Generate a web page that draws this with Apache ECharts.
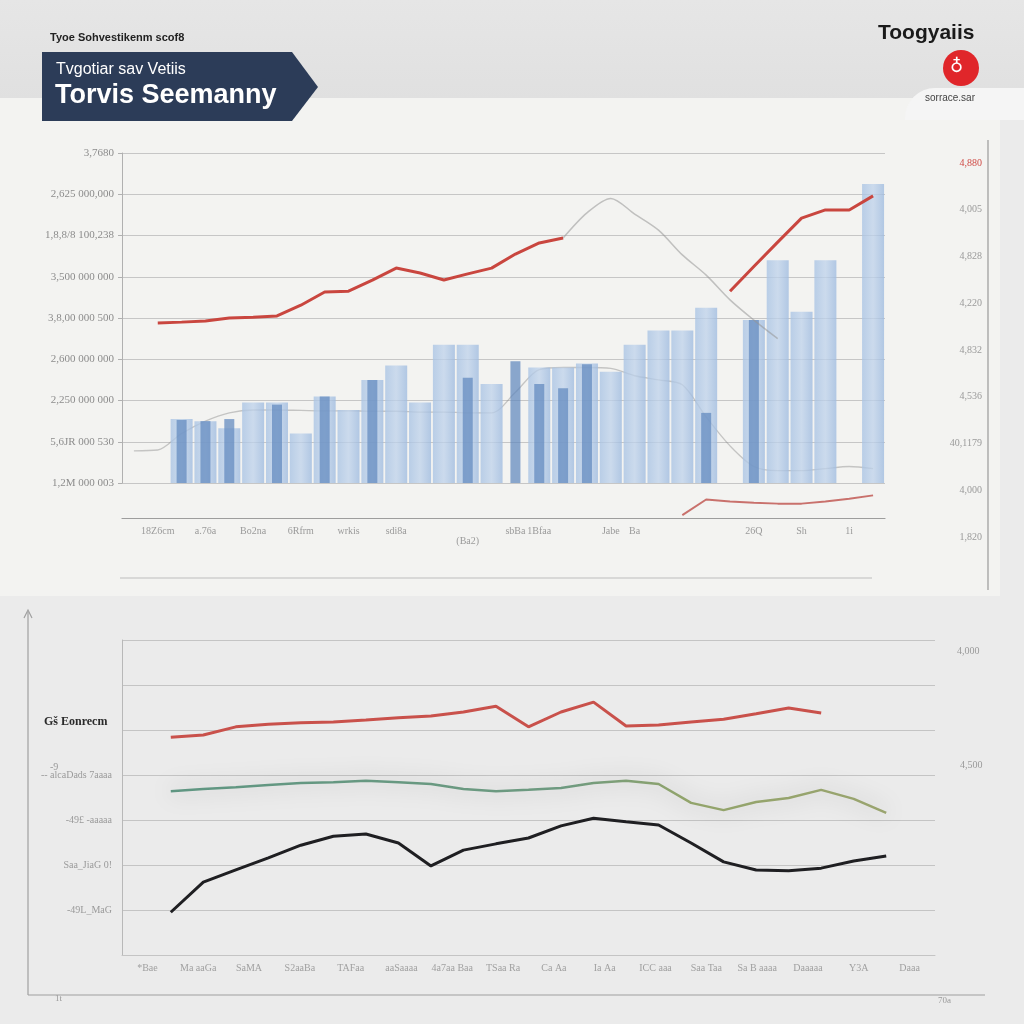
<!DOCTYPE html>
<html><head><meta charset="utf-8">
<script src="https://cdn.jsdelivr.net/npm/echarts@6/dist/echarts.min.js"></script>
<style>html,body{margin:0;padding:0;background:#ebebeb}#c{width:1024px;height:1024px}</style>
</head><body><div id="c"></div>
<script>
// ---------- DATA ----------
const topTickLabels = ['', '18Z6cm', '', 'a.76a', '', 'Bo2na', '', '6Rfrm', '', 'wrkis', '', 'sdi8a', '', '', '\n(Ba2)', '', 'sbBa', '1Bfaa', '', '', 'Jabe', 'Ba', '', '', '', '', '26Q', '', 'Sh', '', '1i', ''];
const topLight = [null,null,1.55,1.5,1.33,1.95,1.95,1.2,2.1,1.77,2.5,2.85,1.95,3.35,3.35,2.4,null,2.8,2.8,2.9,2.7,3.35,3.7,3.7,4.25,null,3.95,5.4,4.15,5.4,null,7.25];
const topDark  = [null,null,1.53,1.5,1.55,null,1.9,null,2.1,null,2.5,null,null,null,2.55,null,2.95,2.4,2.3,2.88,null,null,null,null,1.7,null,3.95,null,null,null,null,null];
const topRed   = [null,3.88,3.9,3.93,4.0,4.02,4.05,4.31,4.63,4.65,4.92,5.21,5.09,4.92,5.07,5.21,5.55,5.82,5.94,null,null,null,null,null,null,4.65,5.25,5.84,6.42,6.62,6.62,6.96];
const topGrayA = [null,null,null,null,null,null,null,null,null,null,null,null,null,null,null,null,null,null,5.94,6.55,6.9,6.52,6.13,5.53,5.04,4.44,3.95,3.5,null,null,null,null];
const topGrayB = [0.78,0.8,1.2,1.5,1.7,1.77,1.77,1.76,1.75,1.75,1.74,1.74,1.72,1.72,1.7,1.7,2.2,2.75,2.8,2.8,2.78,2.6,2.5,2.38,1.6,0.9,0.4,0.3,0.3,0.35,0.4,0.35];
const topRedLow = [null,null,null,null,null,null,null,null,null,null,null,null,null,null,null,null,null,null,null,null,null,null,null,-0.78,-0.4,-0.45,-0.48,-0.5,-0.5,-0.45,-0.38,-0.3];
const leftTopLabels = ['1,2M 000 003','5,6JR 000 530','2,250 000 000','2,600 000 000','3,8,00 000 500','3,500 000 000','1,8,8/8 100,238','2,625 000,000','3,7680'];
const rightTopLabels = ['1,820','4,000','40,1179','4,536','4,832','4,220','4,828','4,005','4,880'];

const botTickLabels = ['*Bae','Ma aaGa','SaMA','S2aaBa','TAFaa','aaSaaaa','4a7aa Baa','TSaa Ra','Ca Aa','Ia Aa','ICC aaa','Saa Taa','Sa B aaaa','Daaaaa','Y3A','Daaa'];
const botRed   = [null,4.84,4.89,5.07,5.13,5.16,5.18,5.22,5.27,5.31,5.4,5.53,5.07,5.4,5.62,5.09,5.11,5.18,5.24,5.36,5.49,5.38,null,null,null];
const botGreen = [null,3.64,3.69,3.73,3.78,3.82,3.84,3.87,3.84,3.8,3.69,3.64,3.67,3.71,3.82,3.87,3.8,3.38,3.22,3.4,3.49,3.67,3.47,3.16,null];
const botBlack = [null,0.95,1.62,1.89,2.16,2.44,2.64,2.69,2.49,1.98,2.33,2.47,2.6,2.87,3.04,2.96,2.89,2.49,2.07,1.89,1.87,1.93,2.09,2.2,null];
const leftBotLabels = ['', '-49L_MaG', 'Saa_JiaG 0!', '-49£ -aaaaa', '-- alcaDads 7aaaa', '', '', ''];

const topCats = topTickLabels.map((_, i) => 'T' + i);
const botCats = botBlack.map((_, i) => 'B' + i);
const botLabelCats = botTickLabels.map((_, i) => 'L' + i);

// ---------- CHART ----------
const chart = echarts.init(document.getElementById('c'), null, {renderer: 'canvas'});
const serif = 'Liberation Serif';
const sans = 'Liberation Sans';

const option = {
  backgroundColor: '#ebebeb',
  animation: false,
  graphic: [
    {type: 'rect', z: -10, shape: {x: 0, y: 0, width: 1024, height: 100}, style: {fill: new echarts.graphic.LinearGradient(0,0,0,1,[{offset:0,color:'#e6e6e6'},{offset:1,color:'#e0e0e0'}])}},
    {type: 'rect', z: -10, shape: {x: 0, y: 98, width: 1000, height: 498}, style: {fill: '#f3f3f1'}},
    {type: 'rect', z: -9, shape: {x: 905, y: 88, width: 119, height: 32, r: [30,0,0,0]}, style: {fill: '#f5f5f5'}},
    {type: 'polygon', z: 5, shape: {points: [[42,52],[292,52],[318,87],[292,121],[42,121]]}, style: {fill: '#2c3c58'}},
    {type: 'text', z: 6, left: 50, top: 32, style: {text: 'Tyoe Sohvestikenm scof8', fill: '#222', font: 'bold 11px ' + sans}},
    {type: 'text', z: 6, left: 56, top: 62, style: {text: 'Tvgotiar sav Vetiis', fill: '#ffffff', font: '16px ' + sans}},
    {type: 'text', z: 6, left: 55, top: 82, style: {text: 'Torvis Seemanny', fill: '#ffffff', font: 'bold 27px ' + sans}},
    {type: 'text', z: 6, left: 878, top: 23, style: {text: 'Toogyaiis', fill: '#1a1a1a', font: 'bold 21px ' + sans}},
    {type: 'circle', z: 6, shape: {cx: 961, cy: 68, r: 18}, style: {fill: '#e0262a'}},
    {type: 'text', z: 7, left: 950, top: 58, style: {text: '♁', fill: '#ffffff', font: 'bold 18px DejaVu Sans'}},
    {type: 'text', z: 6, left: 925, top: 93, style: {text: 'sorrace.sar', fill: '#444', font: '10px ' + sans}},
    {type: 'line', z: 2, shape: {x1: 988, y1: 140, x2: 988, y2: 590}, style: {stroke: '#9a9a9a', lineWidth: 1.2}},
    {type: 'line', z: 2, shape: {x1: 120, y1: 578, x2: 872, y2: 578}, style: {stroke: '#bdbdbd', lineWidth: 1.2}},
    {type: 'line', z: 2, shape: {x1: 28, y1: 612, x2: 28, y2: 995}, style: {stroke: '#a0a0a0', lineWidth: 1.2}},
    {type: 'line', z: 2, shape: {x1: 28, y1: 995, x2: 985, y2: 995}, style: {stroke: '#a0a0a0', lineWidth: 1.2}},
    {type: 'polyline', z: 2, shape: {points: [[24,618],[28,610],[32,618]]}, style: {stroke: '#a0a0a0', lineWidth: 1.2, fill: null}},
    {type: 'text', z: 6, left: 44, top: 716, style: {text: 'Gš Eonrecm', fill: '#2a2a2a', font: 'bold 12px ' + serif}},
    {type: 'text', z: 6, left: 50, top: 762, style: {text: '-9', fill: '#999', font: '10px ' + serif}},
    {type: 'text', z: 6, left: 957, top: 646, style: {text: '4,000', fill: '#9a9a9a', font: '10px ' + serif}},
    {type: 'text', z: 6, left: 960, top: 760, style: {text: '4,500', fill: '#9a9a9a', font: '10px ' + serif}},
    {type: 'text', z: 6, left: 55, top: 994, style: {text: '1t', fill: '#999', font: '9px ' + serif}},
    {type: 'text', z: 6, left: 938, top: 996, style: {text: '70a', fill: '#999', font: '9px ' + serif}}
  ],
  grid: [
    {left: 122, right: 139, top: 153, bottom: 541, containLabel: false},
    {left: 122, right: 36, top: 163, bottom: 487, containLabel: false},
    {left: 122, right: 89, top: 640, bottom: 69, containLabel: false}
  ],
  xAxis: [
    {gridIndex: 0, type: 'category', data: topCats, offset: 35,
     axisLine: {show: true, onZero: false, lineStyle: {color: '#9d9d9d', width: 1.2}}, axisTick: {show: false},
     axisLabel: {interval: 0, color: '#9a9a9a', fontSize: 10, fontFamily: serif, margin: 8,
       formatter: (v, i) => topTickLabels[i]}},
    {gridIndex: 0, type: 'category', data: topCats, show: false},
    {gridIndex: 1, type: 'value', show: false, min: 0, max: 1},
    {gridIndex: 2, type: 'category', data: botCats, show: false},
    {gridIndex: 2, type: 'category', data: botLabelCats, position: 'bottom',
     axisLine: {show: true, onZero: false, lineStyle: {color: '#c4c4c4'}}, axisTick: {show: false},
     axisLabel: {interval: 0, color: '#a0a0a0', fontSize: 10, fontFamily: serif, margin: 8,
       formatter: (v, i) => botTickLabels[i]}}
  ],
  yAxis: [
    {gridIndex: 0, type: 'value', min: 0, max: 8, interval: 1,
     axisLine: {show: true, lineStyle: {color: '#b0b0b0'}}, axisTick: {show: true, length: 4, lineStyle: {color: '#b0b0b0'}},
     splitLine: {lineStyle: {color: '#c6c6c6', width: 1.2}},
     axisLabel: {color: '#8c8c8c', fontSize: 11, fontFamily: serif, margin: 8, formatter: (v) => leftTopLabels[Math.round(v)]}},
    {gridIndex: 1, type: 'value', position: 'right', min: 0, max: 8, interval: 1,
     axisLine: {show: false}, axisTick: {show: false}, splitLine: {show: false},
     axisLabel: {inside: true, fontSize: 10, fontFamily: serif, margin: 6,
       color: (v) => (Math.round(v) === 8 ? '#cf4a45' : '#9a9a9a'),
       formatter: (v) => rightTopLabels[Math.round(v)]}},
    {gridIndex: 2, type: 'value', min: 0, max: 7, interval: 1,
     axisLine: {show: true, lineStyle: {color: '#b8b8b8'}}, axisTick: {show: false},
     splitLine: {lineStyle: {color: '#c4c4c4', width: 1.2}},
     axisLabel: {color: '#9a9a9a', fontSize: 10, fontFamily: serif, margin: 10, formatter: (v) => leftBotLabels[Math.round(v)]}}
  ],
  series: [
    {type: 'line', name: 'grayB', xAxisIndex: 0, yAxisIndex: 0, data: topGrayB, smooth: 0.3, symbol: 'none', z: 1,
     lineStyle: {color: 'rgba(140,140,140,0.45)', width: 1.3}},
    {type: 'bar', name: 'light', xAxisIndex: 0, yAxisIndex: 0, data: topLight, barWidth: 22, z: 2,
     itemStyle: {color: new echarts.graphic.LinearGradient(0,0,1,0,[{offset:0,color:'rgba(170,196,228,0.8)'},{offset:0.5,color:'rgba(190,210,235,0.75)'},{offset:1,color:'rgba(160,188,224,0.8)'}])}},
    {type: 'bar', name: 'dark', xAxisIndex: 1, yAxisIndex: 0, data: topDark, barWidth: 10, z: 3,
     itemStyle: {color: 'rgba(96,136,190,0.72)'}},
    {type: 'line', name: 'grayA', xAxisIndex: 0, yAxisIndex: 0, data: topGrayA, smooth: 0.3, symbol: 'none', z: 4,
     lineStyle: {color: 'rgba(150,150,150,0.55)', width: 1.5}},
    {type: 'line', name: 'red', xAxisIndex: 0, yAxisIndex: 0, data: topRed, symbol: 'none', z: 5,
     lineStyle: {color: '#c9463f', width: 3}},
    {type: 'line', name: 'redLow', xAxisIndex: 0, yAxisIndex: 0, data: topRedLow, symbol: 'none', z: 5, clip: false,
     lineStyle: {color: 'rgba(190,80,75,0.8)', width: 2}},
    {type: 'line', name: 'botRed', xAxisIndex: 3, yAxisIndex: 2, data: botRed, symbol: 'none', z: 5,
     lineStyle: {color: '#c9514b', width: 3}},
    {type: 'line', name: 'botGreen', xAxisIndex: 3, yAxisIndex: 2, data: botGreen, symbol: 'none', z: 4,
     lineStyle: {width: 2.5, shadowColor: 'rgba(0,0,0,0.35)', shadowBlur: 22, shadowOffsetY: 0,
       color: new echarts.graphic.LinearGradient(0,0,1,0,[{offset:0,color:'#5f9682'},{offset:0.55,color:'#6e9a80'},{offset:0.72,color:'#92a46b'},{offset:1,color:'#9aa46f'}])}},
    {type: 'line', name: 'botBlack', xAxisIndex: 3, yAxisIndex: 2, data: botBlack, symbol: 'none', z: 5,
     lineStyle: {color: '#1f1f22', width: 3}}
  ]
};
chart.setOption(option);
</script>
</body></html>
